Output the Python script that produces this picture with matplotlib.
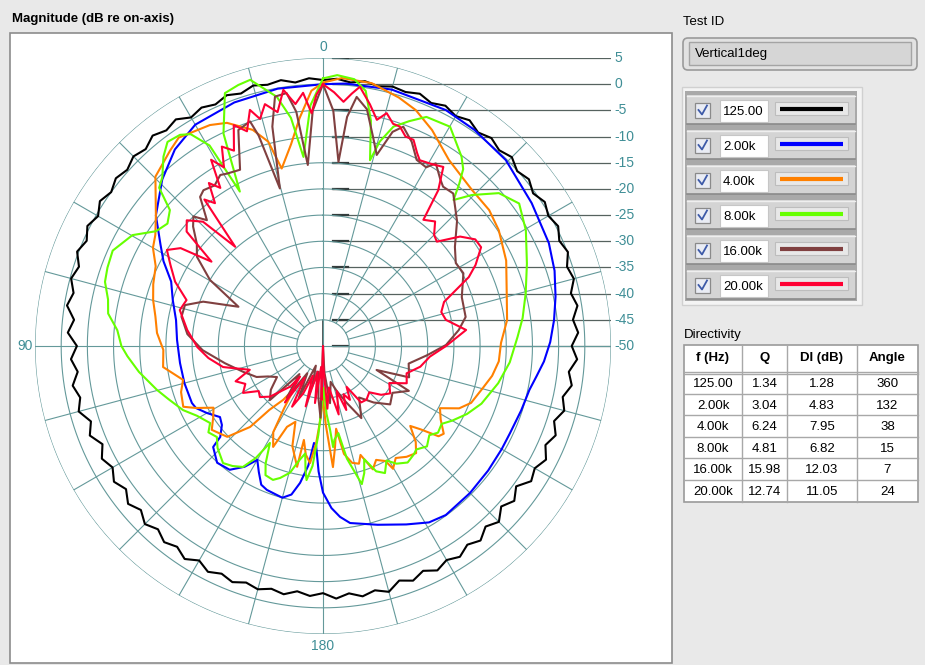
"""Polar directivity plot (LabVIEW style front panel) recreated with matplotlib."""
import matplotlib

matplotlib.use("Agg")
import matplotlib.pyplot as plt
import numpy as np
from matplotlib.patches import FancyBboxPatch, Rectangle

plt.rcParams["font.family"] = ["Liberation Sans", "DejaVu Sans"]

# ---------------------------------------------------------------------------
# data: angle in degrees (0 at top, counter-clockwise), level in dB re on-axis
# ---------------------------------------------------------------------------
black_ang = list(range(0, 361, 3))
black_db = [
    0.8, 1.2, 0.6, 1.4, 1.0, 1.5, 0.7, 1.3, 0.5, 1.1, 0.4, 1.6, 0.9, 1.7, 0.6,
    1.2, 0.3, 0.9, 0.0, 0.8, -0.4, 0.5, -0.6, 0.3, -1.0, -0.2, -1.3, -0.5, -2.2,
    -1.2, -3.0, -1.8, -2.9, -1.6, -2.6, -1.7, -3.4, -2.3, -3.9, -2.6, -3.6, -2.4,
    -3.5, -2.1, -3.2, -1.9, -2.9, -1.8, -2.6, -1.5, -2.7, -1.6, -2.4, -1.7, -2.5,
    -1.9, -2.6, -2.0, -2.9, -2.2, -2.8, -1.7, -2.5, -1.6, -2.3, -1.4, -2.9, -2.0,
    -3.0, -1.9, -2.8, -2.0, -3.1, -2.2, -3.6, -2.5, -4.2, -3.0, -4.4, -2.6, -3.3,
    -2.2, -3.5, -2.4, -3.6, -2.3, -3.2, -1.9, -2.8, -1.4, -2.5, -1.2, -2.0, -0.8,
    -1.6, -0.4, -1.0, 0.1, -0.6, 0.4, -0.3, 0.5, -0.4, 0.6, -0.1, 1.0, 0.3, 1.1,
    0.4, 1.4, 0.7, 1.5, 0.8, 1.6, 1.0, 1.3, 0.7, 1.2, 0.6, 1.1, 0.8,
]

blue_ang = [
    0, 10, 20, 30, 37, 44, 52, 58, 62, 67, 73, 80, 87.6, 96.8, 105, 113.5, 116,
    120, 124.6, 128, 131.5, 132.6, 137.8, 143, 147, 150, 153, 156, 158.7, 165,
    168, 170.5, 173, 174.7, 176, 178, 180, 183, 185.7, 188.7, 197, 205, 211, 216,
    225, 233, 240, 245, 252, 258, 262, 266, 271, 276.4, 282, 288, 294.5, 304.4,
    315.5, 325, 332.5, 345, 355, 360,
]
blue_db = [
    0.0, -0.1, -0.5, -1.2, -3.0, -5.8, -9.5, -13.4, -15.5, -18.5, -20.0, -21.5,
    -22.1, -22.5, -22.6, -22.7, -23.0, -24.4, -26.1, -25.5, -23.8, -21.5, -19.9,
    -20.4, -22.5, -24.9, -23.0, -21.0, -20.5, -20.0, -21.0, -23.5, -27.0, -31.4,
    -31.0, -26.0, -22.0, -19.0, -17.2, -15.8, -14.3, -12.4, -10.7, -10.1, -10.3,
    -10.5, -10.6, -10.6, -10.2, -9.7, -8.8, -7.7, -6.6, -5.6, -4.6, -3.5, -2.6,
    -1.7, -0.2, 0.4, 0.8, 0.7, 0.3, 0.0,
]

orange_ang = [
    0, 2.6, 5.9, 9, 13.1, 15, 18, 23.3, 27.1, 34.7, 38, 44.7, 52, 56.5, 60, 64.5,
    70, 74.9, 80, 85.5, 91.4, 97.5, 103.6, 108, 113.5, 116, 119.4, 123, 127,
    133.5, 138, 140, 143.5, 146, 148, 150, 153.7, 156, 160, 163, 167.9, 168.5,
    171, 173.7, 176, 178, 180, 182, 184.7, 186.8, 189, 191, 194, 197, 199, 202,
    205, 208.5, 209.7, 213, 217, 221, 224, 227.5, 229.5, 232, 234, 238, 242,
    245.4, 249, 255, 260, 265, 271, 278, 286, 295, 303.4, 309.3, 316.3, 325.9,
    333.2, 338.5, 343, 349.5, 356, 360,
]
orange_db = [
    0.3, -1.2, -6.3, -11.0, -15.2, -9.6, -6.6, -3.6, -2.6, -1.6, -2.6, -4.5,
    -9.5, -11.6, -12.5, -14.6, -15.5, -16.4, -17.5, -18.2, -19.5, -19.2, -22.5,
    -21.5, -20.9, -23.0, -26.0, -25.0, -23.4, -24.8, -29.2, -34.1, -37.2, -40.0,
    -36.0, -31.0, -28.5, -33.1, -34.6, -30.0, -26.4, -31.7, -29.0, -27.5, -31.5,
    -36.0, -40.0, -35.0, -26.8, -30.6, -34.0, -29.0, -27.0, -26.5, -28.0, -24.6,
    -26.0, -25.0, -23.0, -24.5, -23.5, -22.9, -24.5, -27.4, -25.5, -22.0, -21.5,
    -23.5, -24.7, -21.4, -19.7, -18.5, -17.2, -16.3, -16.0, -14.5, -13.5, -11.4,
    -9.8, -9.0, -8.8, -7.1, -3.8, -1.6, -0.4, 1.05, 1.3, 0.3,
]

green_ang = [
    0, 3, 5.9, 8, 10.5, 15.3, 18, 21.2, 25.1, 26.8, 28.3, 29.5, 32, 34.1, 37.3,
    40.1, 43.6, 46, 48.4, 51.8, 55.5, 59.8, 65.6, 70, 73.6, 77.8, 81.4, 85.6, 90,
    93, 98, 104.8, 109, 114.6, 119, 124.3, 127, 130.6, 134, 139.5, 143, 146.5,
    149, 151.3, 154, 156, 159.5, 162, 165.4, 168, 170.6, 172, 173, 175, 177, 179,
    181, 183, 184.8, 185.7, 187, 190, 192, 195.7, 198, 200, 203, 206, 209, 212,
    216, 220, 222, 226, 230, 233, 236.7, 240, 244.7, 250, 258, 265, 272.7, 278,
    284.6, 292, 299.7, 306, 311, 315.4, 318.2, 320, 321.6, 323.8, 329.9, 335.7,
    339, 342.2, 344.5, 345.8, 348, 350.5, 353.3, 357, 360,
]
green_db = [
    1.1, -4.0, -13.7, -6.0, -1.6, 2.7, 2.4, 1.8, -5.2, -12.0, -16.5, -6.0, -2.3,
    -1.3, -1.0, -2.7, -5.5, -6.5, -10.9, -12.2, -11.3, -7.9, -5.9, -6.2, -6.6,
    -8.0, -8.5, -10.6, -11.5, -12.6, -14.5, -17.2, -18.8, -20.6, -22.5, -23.9,
    -22.6, -23.3, -22.0, -20.6, -21.3, -22.3, -25.0, -28.9, -25.0, -23.0, -22.7,
    -23.5, -25.0, -27.5, -29.2, -26.0, -24.2, -27.0, -33.0, -39.1, -42.0, -37.0,
    -34.0, -30.6, -32.0, -33.1, -28.0, -22.6, -24.5, -27.0, -24.0, -23.0, -25.0,
    -23.5, -22.5, -23.0, -23.4, -22.4, -23.5, -22.5, -22.9, -21.5, -19.6, -17.8,
    -15.8, -14.2, -12.8, -11.5, -10.0, -8.0, -5.4, -3.7, -5.5, -9.5, -12.6,
    -9.5, -6.9, -5.2, -1.6, -2.0, -4.0, -6.0, -9.5, -13.4, -6.0, -0.6, 1.3, 1.8,
    1.1,
]

# 16 kHz and 20 kHz are lobed, kept as (angle, dB) pairs
brown_pts = [
    (0, 0.0), (2.5, -5.0), (4.8, -15.3), (6.5, -5.0), (8.2, -1.2), (10.9, -1.5),
    (13, -7.0), (15.3, -18.8), (17, -8.0), (18, -4.9), (21.4, -5.7), (23, -9.0),
    (25.2, -12.8), (29.2, -12.3), (31, -11.9), (34, -13.0), (37.5, -12.5),
    (39.5, -13.1), (42.7, -17.3), (45, -15.0), (47.4, -16.3), (51, -19.0),
    (54.7, -20.5), (59.7, -25.0), (65.1, -32.2), (69.7, -25.6), (73.5, -22.5),
    (78.3, -22.4), (85, -24.0), (92, -27.0), (100, -31.0), (108, -34.0),
    (115, -36.0), (119, -38.0), (124, -39.4), (130, -37.0), (135.5, -35.5),
    (140, -43.0), (145, -38.0), (150, -44.0), (155, -39.0), (160, -46.0),
    (165, -42.0), (170, -45.0), (175, -40.0), (178, -36.3), (180, -50.0),
    (183, -45.0), (187, -39.0), (192, -43.0), (197, -41.0), (202.5, -38.3),
    (208, -34.4), (215, -38.0), (221.9, -35.5), (229, -33.0), (236, -34.0),
    (242.4, -31.5), (245.9, -38.8), (250, -32.5), (258.4, -33.3), (265, -30.0),
    (270.5, -26.5), (276.7, -23.9), (281.5, -22.2), (289.4, -21.9),
    (297.4, -19.8), (302, -20.1), (306.9, -18.5), (313, -15.0), (319.5, -11.7),
    (323, -11.9), (325, -11.0), (328.3, -9.0), (330, -10.6), (333.3, -10.2),
    (336.5, -7.5), (339.9, -5.4), (342, -7.0), (344.3, -12.1), (346.5, -9.0),
    (349.5, -4.0), (352.3, -2.0), (354, -6.0), (355.2, -14.7), (357.5, -5.0),
    (360, 0.0),
]
red_pts = [
    (0, 0.0), (1.5, -2.0), (2.8, -5.5), (4.5, -1.5), (6.5, -3.5), (8.8, -0.5),
    (11, -4.5), (13.5, -2.5), (15.5, -5.0), (17.2, -2.8), (19.5, -6.5),
    (22, -4.5), (24.5, -9.0), (26.9, -7.3), (29, -11.0), (31, -8.5), (33, -14.0),
    (35, -12.0), (37.1, -15.8), (39, -14.0), (41.5, -24.7), (44, -17.0),
    (47.3, -14.6), (50, -16.0), (52.9, -23.3), (55.5, -17.0), (58.4, -15.0),
    (62, -17.0), (66.5, -19.2), (71.4, -22.5), (75.9, -21.8), (83.3, -23.9),
    (90.5, -26.0), (96, -28.0), (101.9, -30.5), (108, -35.3), (112, -32.0),
    (116, -33.5), (120.4, -32.3), (125, -35.0), (129, -34.5), (133.7, -36.0),
    (141, -40.0), (143.1, -42.7), (146, -37.0), (150, -43.0), (153, -37.0),
    (157.4, -40.2), (161, -44.0), (164, -38.0), (168, -45.0), (172, -39.0),
    (175, -46.0), (178.6, -39.7), (180, -50.0), (181, -46.0), (184, -38.0),
    (188, -42.0), (192.9, -36.6), (197, -41.0), (200, -37.0), (203, -40.0),
    (206.6, -38.5), (210, -41.0), (214, -37.0), (219, -36.8), (225, -37.5),
    (230, -35.5), (234.8, -34.3), (240.8, -35.5), (246, -32.5), (251.9, -33.2),
    (258, -31.0), (264.3, -29.5), (270, -26.5), (276.4, -22.5), (282, -26.0),
    (286, -26.5), (290, -25.4), (295.3, -19.2), (298, -17.0), (302, -14.4),
    (305, -14.5), (308.6, -16.5), (312.5, -20.5), (315, -20.0), (318, -18.0),
    (321.5, -19.2), (323.5, -13.0), (326.1, -8.8), (329, -9.5), (332.5, -10.0),
    (334, -9.0), (336.3, -7.0), (338.5, -7.0), (340.7, -5.6), (342.5, -5.5),
    (344.7, -3.9), (346.6, -5.6), (349, -3.0), (351.9, 0.0), (353.5, -1.5),
    (355.2, -3.2), (357.5, -1.5), (360, 0.0),
]
brown_ang, brown_db = [p[0] for p in brown_pts], [p[1] for p in brown_pts]
red_ang, red_db = [p[0] for p in red_pts], [p[1] for p in red_pts]

series_labels = ["125.00", "2.00k", "4.00k", "8.00k", "16.00k", "20.00k"]
series_colors = ["#000000", "#0000ff", "#ff8000", "#66ff00", "#804040", "#ff0033"]
series_ang = [black_ang, blue_ang, orange_ang, green_ang, brown_ang, red_ang]
series_db = [black_db, blue_db, orange_db, green_db, brown_db, red_db]

mag_ticks = [5, 0, -5, -10, -15, -20, -25, -30, -35, -40, -45, -50]
angle_labels = {0: "0", 90: "90", 180: "180"}

test_id = "Vertical1deg"
tbl_header = ["f (Hz)", "Q", "DI (dB)", "Angle"]
tbl_q = ["1.34", "3.04", "6.24", "4.81", "15.98", "12.74"]
tbl_di = ["1.28", "4.83", "7.95", "6.82", "12.03", "11.05"]
tbl_angle = ["360", "132", "38", "15", "7", "24"]

DB_FLOOR = -50
DB_TOP = 5
GRID_C = "#64999a"
LABEL_C = "#3f8e96"
W, H = 925, 665


def main():
    fig = plt.figure(figsize=(W / 100, H / 100), dpi=100, facecolor="#e9e9e9")

    # front-panel widgets, drawn in pixel coordinates
    ui = fig.add_axes([0, 0, 1, 1])
    ui.set_xlim(0, W)
    ui.set_ylim(H, 0)
    ui.axis("off")
    ui.set_zorder(0)

    ui.add_patch(Rectangle((10, 33), 662, 630, fc="white", ec="#8c8c8c", lw=1.2))
    ui.text(12, 19, "Magnitude (dB re on-axis)", fontsize=9.5, fontweight="bold",
            va="center", ha="left")

    ui.text(683, 22, "Test ID", fontsize=9.5, va="center")
    ui.add_patch(FancyBboxPatch((683, 38), 234, 32, boxstyle="round,pad=0,rounding_size=5",
                                fc="#e2e2e2", ec="#9a9a9a", lw=1.2))
    ui.add_patch(Rectangle((689, 42), 222, 23, fc="#d6d6d6", ec="#a4a4a4", lw=1))
    ui.text(695, 53.5, test_id, fontsize=9.5, va="center")

    # legend with check boxes
    ui.add_patch(Rectangle((682, 87), 180, 218, fc="#f4f4f4", ec="#d0d0d0", lw=1))
    ui.add_patch(Rectangle((685, 91), 172, 210, fc="#a9a9a9", ec="none"))
    for i, (lab, col) in enumerate(zip(series_labels, series_colors)):
        top = 95 + 35 * i
        ui.add_patch(Rectangle((687, top), 168, 29, fc="#d4d4d4", ec="none"))
        ui.plot([687, 855], [top + 0.5, top + 0.5], color="#efefef", lw=1)
        ui.plot([687, 855], [top + 29, top + 29], color="#8a8a8a", lw=1.2)
        ui.add_patch(Rectangle((695, top + 8), 15, 15, fc="#e9ecf4", ec="#8a8a8a", lw=0.9))
        ui.plot([698.5, 702, 707], [top + 15, top + 19.5, top + 10.5], color="#3d5aa8", lw=1.3)
        ui.add_patch(Rectangle((720, top + 5), 48, 22, fc="white", ec="#c6c6c6", lw=0.8))
        ui.text(723, top + 17, lab, fontsize=9.5, va="center")
        ui.add_patch(Rectangle((775, top + 7), 73, 13, fc="#e8e8e8", ec="#bdbdbd", lw=0.8))
        ui.plot([780, 843], [top + 13.5, top + 13.5], color=col, lw=3, solid_capstyle="butt")

    # directivity table
    ui.text(684, 335, "Directivity", fontsize=9.5, va="center")
    col_x = [684, 742, 787, 857, 918]
    row_y = [345, 372, 393.5, 415, 436.5, 458, 479.5, 502]
    ui.add_patch(Rectangle((col_x[0], row_y[0]), col_x[-1] - col_x[0], row_y[-1] - row_y[0],
                           fc="white", ec="#9a9a9a", lw=1.2))
    for x in col_x[1:-1]:
        ui.plot([x, x], [row_y[0], row_y[-1]], color="#a8a8a8", lw=1)
    for y in row_y[1:-1]:
        ui.plot([col_x[0], col_x[-1]], [y, y], color="#a8a8a8", lw=1)
    ui.plot([col_x[0], col_x[-1]], [row_y[1] + 2, row_y[1] + 2], color="#a8a8a8", lw=1)
    centers = [(a + b) / 2 for a, b in zip(col_x[:-1], col_x[1:])]
    for cx, txt in zip(centers, tbl_header):
        ui.text(cx, (row_y[0] + row_y[1]) / 2, txt, fontsize=9.5, fontweight="bold",
                ha="center", va="center")
    body = list(zip(series_labels, tbl_q, tbl_di, tbl_angle))
    for r, vals in enumerate(body):
        cy = (row_y[r + 1] + row_y[r + 2]) / 2 + 1.5
        for cx, txt in zip(centers, vals):
            ui.text(cx, cy, txt, fontsize=9.5, ha="center", va="center")

    # polar plot area (centre 323,346 px; 5 dB ring radius 288 px)
    rect = [35 / W, (H - 634) / H, 576 / W, 576 / H]
    rmax = DB_TOP - DB_FLOOR

    ov = fig.add_axes(rect)
    ov.set_xlim(-rmax, rmax)
    ov.set_ylim(-rmax, rmax)
    ov.axis("off")
    ov.set_zorder(1)
    for db in mag_ticks:
        y = db - DB_FLOOR
        ov.plot([1.9, 55.2], [y, y], color="#56625f", lw=0.9)
        ov.plot([1.9, 4.8], [y, y], color="#333c3c", lw=1.6)
        ov.text(55.7, y, f"{db}", color=LABEL_C, fontsize=10, ha="left", va="center")
    ov.plot([0, 0], [0, 5], color="#333c3c", lw=1.2)
    ov.text(0, 57.1, angle_labels[0], color=LABEL_C, fontsize=10, ha="center", va="center")
    ov.text(-55.4, 0, angle_labels[90], color=LABEL_C, fontsize=10, ha="right", va="center")
    ov.text(0, -57.2, angle_labels[180], color=LABEL_C, fontsize=10, ha="center", va="center")

    ax = fig.add_axes(rect, projection="polar")
    ax.set_zorder(2)
    ax.patch.set_alpha(0)
    ax.set_theta_zero_location("N")
    ax.set_theta_direction(1)
    ax.set_ylim(0, rmax)
    ax.set_xticks([])
    ax.set_yticks([])
    ax.grid(False)
    ax.spines["polar"].set_visible(False)

    th = np.linspace(0, 2 * np.pi, 721)
    for r in range(5, rmax + 1, 5):
        ax.plot(th, np.full_like(th, r), color=GRID_C, lw=0.8)
    for a in range(0, 360, 15):
        r0 = 0 if a % 90 == 0 else 5
        ax.plot([np.deg2rad(a)] * 2, [r0, rmax], color=GRID_C, lw=0.8)

    for ang, db, col in zip(series_ang, series_db, series_colors):
        r = np.clip(np.asarray(db, dtype=float) - DB_FLOOR, 0, None)
        ax.plot(np.deg2rad(ang), r, color=col, lw=1.5, solid_joinstyle="round")

    fig.savefig("out.png", dpi=100, facecolor=fig.get_facecolor())
    plt.close(fig)


if __name__ == "__main__":
    main()
